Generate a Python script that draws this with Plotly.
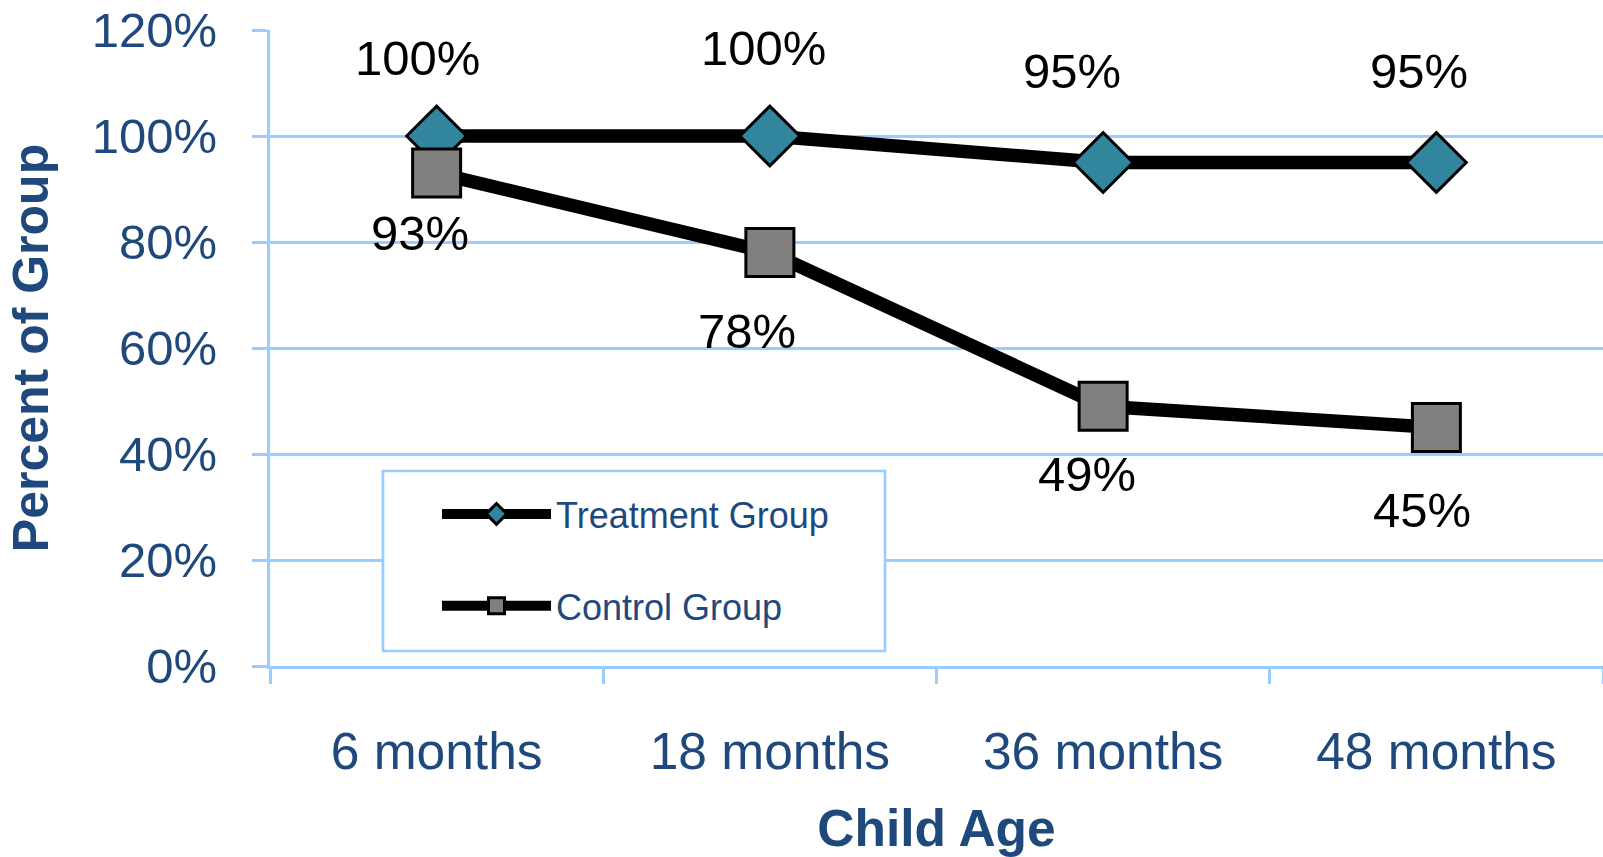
import plotly.graph_objects as go

# ---- data ----
categories = ["6 months", "18 months", "36 months", "48 months"]
treatment = [100, 100, 95, 95]
control = [93, 78, 49, 45]
series_names = ["Treatment Group", "Control Group"]
y_ticks = [0, 20, 40, 60, 80, 100, 120]
y_tick_labels = ["0%", "20%", "40%", "60%", "80%", "100%", "120%"]

# ---- styles ----
FONT = "Arial, 'Liberation Sans', sans-serif"
TXT = "#1F497D"
GRID = "#99CCFF"
TEAL = "#31859C"
GRAY = "#808080"

# label offsets in screen pixels (dx, dy; dy positive = down)
t_off = [(-19, -78), (-6, -88), (-31, -92), (-17, -92)]
c_off = [(-17, 60), (-22.5, 78.5), (-16.5, 68), (-14, 82.5)]

fig = go.Figure()
fig.add_trace(go.Scatter(
    x=categories, y=treatment, name=series_names[0], mode="lines+markers",
    line=dict(color="black", width=13.5),
    marker=dict(symbol="diamond", size=46, color=TEAL, line=dict(color="black", width=3)),
    legendgroup="a", cliponaxis=False,
))
fig.add_trace(go.Scatter(
    x=categories, y=control, name=series_names[1], mode="lines+markers",
    line=dict(color="black", width=13.5),
    marker=dict(symbol="square", size=48, color=GRAY, line=dict(color="black", width=3)),
    legendgroup="b", cliponaxis=False,
))

anns = []
for vals, offs in ((treatment, t_off), (control, c_off)):
    for c, v, (dx, dy) in zip(categories, vals, offs):
        anns.append(dict(x=c, y=v, xref="x", yref="y", text=f"{v}%", showarrow=False,
                         xshift=dx, yshift=-dy, xanchor="center", yanchor="middle",
                         font=dict(family=FONT, size=49, color="black")))

W, H = 1603, 857
L, R, T, B = 270, 0, 30, 191
pw, ph = W - L - R, H - T - B

def px_x(p):
    return (p - L) / pw

def px_y(p):
    return (H - B - p) / ph

fig.add_shape(type="rect", xref="paper", yref="paper",
              x0=px_x(383), x1=px_x(885), y0=px_y(651), y1=px_y(471),
              line=dict(color=GRID, width=2.7), fillcolor="white", layer="above")

fig.update_layout(
    width=W, height=H,
    margin=dict(l=L, r=R, t=T, b=B, autoexpand=False),
    paper_bgcolor="white", plot_bgcolor="white",
    font=dict(family=FONT, color=TXT),
    annotations=anns,
    showlegend=True,
    legend=dict(
        x=px_x(437), y=px_y(484), xanchor="left", yanchor="top",
        bgcolor="rgba(0,0,0,0)", borderwidth=0,
        font=dict(family=FONT, size=36, color=TXT),
        itemwidth=109, tracegroupgap=42, traceorder="grouped",
    ),
    xaxis=dict(
        type="category", range=[-0.5, 3.5],
        showline=True, linecolor=GRID, linewidth=3,
        ticks="outside", tickson="boundaries", ticklen=15, tickcolor=GRID, tickwidth=2.5,
        showgrid=False, zeroline=False,
        tickfont=dict(family=FONT, size=51.5, color=TXT),
        ticklabelstandoff=38,
        title=dict(text="Child Age", font=dict(family=FONT, size=51.5, color=TXT, weight="bold"),
                   standoff=34),
        automargin=False,
    ),
    yaxis=dict(
        range=[0, 120], tickmode="array", tickvals=y_ticks, ticktext=y_tick_labels,
        showline=True, linecolor=GRID, linewidth=3,
        ticks="outside", ticklen=15, tickcolor=GRID, tickwidth=2.5,
        showgrid=True, gridcolor=GRID, gridwidth=2.5, zeroline=False,
        tickfont=dict(family=FONT, size=49, color=TXT),
        ticklabelstandoff=25,
        title=dict(text="Percent of Group", font=dict(family=FONT, size=50, color=TXT, weight="bold"),
                   standoff=28),
        automargin=False,
    ),
)

fig.write_html("out.html")
